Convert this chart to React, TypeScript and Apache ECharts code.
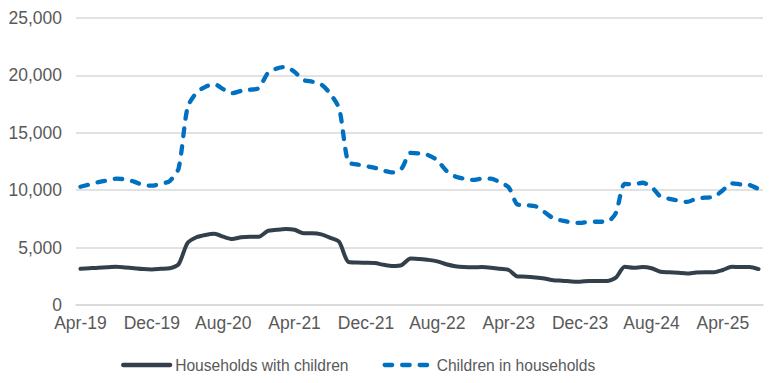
import React, { useEffect, useRef } from "react";
import * as echarts from "echarts";

const months: string[] = [
  "Apr-19","May-19","Jun-19","Jul-19","Aug-19","Sep-19","Oct-19","Nov-19","Dec-19",
  "Jan-20","Feb-20","Mar-20","Apr-20","May-20","Jun-20","Jul-20","Aug-20","Sep-20","Oct-20","Nov-20","Dec-20",
  "Jan-21","Feb-21","Mar-21","Apr-21","May-21","Jun-21","Jul-21","Aug-21","Sep-21","Oct-21","Nov-21","Dec-21",
  "Jan-22","Feb-22","Mar-22","Apr-22","May-22","Jun-22","Jul-22","Aug-22","Sep-22","Oct-22","Nov-22","Dec-22",
  "Jan-23","Feb-23","Mar-23","Apr-23","May-23","Jun-23","Jul-23","Aug-23","Sep-23","Oct-23","Nov-23","Dec-23",
  "Jan-24","Feb-24","Mar-24","Apr-24","May-24","Jun-24","Jul-24","Aug-24","Sep-24","Oct-24","Nov-24","Dec-24",
  "Jan-25","Feb-25","Mar-25","Apr-25","May-25","Jun-25","Jul-25","Aug-25",
];

const households: number[] = [
  3150, 3200, 3250, 3280, 3330, 3270, 3200, 3130, 3100, 3150,
  3200, 3550, 5400, 5900, 6100, 6200, 5950, 5750, 5900, 5950,
  5950, 6450, 6550, 6620, 6550, 6250, 6250, 6150, 5850, 5500,
  3770, 3700, 3680, 3650, 3500, 3400, 3480, 4050, 4000, 3930,
  3800, 3550, 3380, 3300, 3280, 3300, 3250, 3150, 3050, 2480,
  2470, 2400, 2300, 2150, 2120, 2050, 2030, 2100, 2100, 2100,
  2380, 3330, 3250, 3300, 3200, 2900, 2850, 2800, 2750, 2830,
  2850, 2850, 3050, 3330, 3300, 3320, 3130,
];

const children: number[] = [
  10300, 10500, 10700, 10850, 11000, 10950, 10750, 10450, 10400, 10550,
  10800, 11900, 17200, 18500, 19000, 19250, 18800, 18450, 18650, 18750,
  18900, 20200, 20600, 20750, 20300, 19600, 19450, 19200, 18400, 17100,
  12450, 12250, 12100, 11950, 11700, 11550, 11900, 13250, 13200, 13050,
  12600, 11700, 11200, 11000, 10900, 11000, 11000, 10700, 10250, 8750,
  8700, 8600, 8100, 7550, 7350, 7200, 7150, 7250, 7250, 7250,
  8000, 10550, 10500, 10650, 10300, 9450, 9250, 9100, 8980, 9250,
  9350, 9420, 10000, 10600, 10500, 10450, 10100,
];

const yTicks = { min: 0, max: 25000, interval: 5000 };

export default function App() {
  const ref = useRef<HTMLDivElement>(null);
  useEffect(() => {
    if (!ref.current) return;
    const chart = echarts.init(ref.current, null, { renderer: "svg" });
    const font = "'Liberation Sans', Arial, sans-serif";
    chart.setOption({
      animation: false,
      grid: { left: 76, right: 12, top: 18, bottom: 78, containLabel: false },
      legend: {
        left: 116,
        top: 352,
        itemWidth: 47,
        itemHeight: 14,
        itemGap: 34,
        itemStyle: { opacity: 0 },
        lineStyle: { width: 4.3, cap: "round" },
        textStyle: { fontFamily: font, fontSize: 15.6, color: "#595959" },
        data: ["Households with children", "Children in households"],
      },
      xAxis: {
        type: "category",
        data: months,
        boundaryGap: true,
        axisLine: { show: true, lineStyle: { color: "#d9d9d9", width: 1.5 } },
        axisTick: { show: false },
        axisLabel: {
          interval: 7,
          margin: 9,
          fontFamily: font,
          fontSize: 17.5,
          color: "#595959",
        },
      },
      yAxis: {
        type: "value",
        min: yTicks.min,
        max: yTicks.max,
        interval: yTicks.interval,
        axisLine: { show: false },
        axisTick: { show: false },
        splitLine: { lineStyle: { color: "#d9d9d9", width: 1.5 } },
        axisLabel: {
          margin: 14,
          fontFamily: font,
          fontSize: 17.5,
          color: "#595959",
          formatter: (v: number) => v.toLocaleString("en-US"),
        },
      },
      series: [
        {
          name: "Households with children",
          type: "line",
          data: households,
          symbol: "none",
          smooth: 0.25,
          lineStyle: { color: "#333f4a", width: 4, cap: "round", join: "round" },
          itemStyle: { color: "#333f4a" },
        },
        {
          name: "Children in households",
          type: "line",
          data: children,
          symbol: "none",
          smooth: 0.25,
          lineStyle: { color: "#0070c0", width: 4.3, type: [7.5, 10], cap: "round", join: "round" },
          itemStyle: { color: "#0070c0" },
        },
      ],
    });
    return () => chart.dispose();
  }, []);
  return <div ref={ref} style={{ width: 775, height: 383, position: "absolute", left: 0, top: 0 }} />;
}
